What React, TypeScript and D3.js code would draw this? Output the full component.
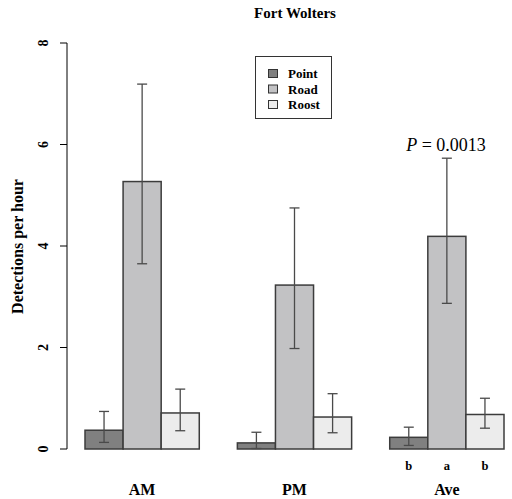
import React from "react";
import * as d3 from "d3";

const groups = ["AM", "PM", "Ave"];
const series = ["Point", "Road", "Roost"];
const means = [
  [0.37, 5.27, 0.71],
  [0.12, 3.23, 0.63],
  [0.23, 4.19, 0.68],
];
const upper = [
  [0.74, 7.19, 1.18],
  [0.33, 4.75, 1.09],
  [0.43, 5.73, 1.0],
];
const lower = [
  [0.13, 3.65, 0.36],
  [0.01, 1.98, 0.32],
  [0.07, 2.87, 0.41],
];
const yTicks = [0, 2, 4, 6, 8];
const letters = ["b", "a", "b"];
const colors = ["#808080", "#c2c2c4", "#ececec"];

export default function App() {
  const W = 512, H = 499;
  const font = "Liberation Serif, Times New Roman, serif";
  const y = d3.scaleLinear().domain([0, 8]).range([449, 43]);
  const x = d3.scaleBand<string>().domain(groups).range([85, 504]).paddingInner(0.25).paddingOuter(0);
  const xs = d3.scaleBand<string>().domain(series).range([0, x.bandwidth()]).padding(0);
  const cap = 5;
  return (
    <svg width={W} height={H} style={{ position: "absolute", left: 0, top: 0, fontFamily: font }}>
      <rect width={W} height={H} fill="#fff" />
      <text x={295} y={18} textAnchor="middle" fontWeight="bold" fontSize={15}>Fort Wolters</text>
      {/* y axis */}
      <line x1={67} x2={67} y1={y(0)} y2={y(8)} stroke="#000" strokeWidth={1} />
      {yTicks.map((t) => (
        <g key={t}>
          <line x1={60} x2={67} y1={y(t)} y2={y(t)} stroke="#000" />
          <text transform={`translate(48,${y(t)}) rotate(-90)`} textAnchor="middle" fontWeight="bold" fontSize={14}>{t}</text>
        </g>
      ))}
      <text transform={`translate(23,246.5) rotate(-90)`} textAnchor="middle" fontWeight="bold" fontSize={16}>Detections per hour</text>
      {/* bars */}
      {groups.map((g, gi) => (
        <g key={g}>
          {series.map((s, si) => {
            const bx = (x(g) as number) + (xs(s) as number);
            const bw = xs.bandwidth();
            const cx = bx + bw / 2;
            return (
              <g key={s}>
                <rect x={bx} y={y(means[gi][si])} width={bw} height={y(0) - y(means[gi][si])} fill={colors[si]} stroke="#3c3c3c" strokeWidth={1.5} />
                <line x1={cx} x2={cx} y1={y(upper[gi][si])} y2={y(lower[gi][si])} stroke="#4a4a4a" strokeWidth={1.3} />
                <line x1={cx - cap} x2={cx + cap} y1={y(upper[gi][si])} y2={y(upper[gi][si])} stroke="#4a4a4a" strokeWidth={1.3} />
                <line x1={cx - cap} x2={cx + cap} y1={y(lower[gi][si])} y2={y(lower[gi][si])} stroke="#4a4a4a" strokeWidth={1.3} />
              </g>
            );
          })}
          <text x={(x(g) as number) + x.bandwidth() / 2} y={495} textAnchor="middle" fontWeight="bold" fontSize={16}>{g}</text>
        </g>
      ))}
      {letters.map((l, i) => (
        <text key={i} x={(x("Ave") as number) + (xs(series[i]) as number) + xs.bandwidth() / 2} y={470} textAnchor="middle" fontWeight="bold" fontSize={12.5}>{l}</text>
      ))}
      <text x={446} y={151} textAnchor="middle" fontSize={18}>
        <tspan fontStyle="italic">P</tspan> = 0.0013
      </text>
      {/* legend */}
      <rect x={255.5} y={56.5} width={76} height={62} fill="#fff" stroke="#333" strokeWidth={1} />
      {series.map((s, i) => (
        <g key={s}>
          <rect x={268.5} y={69.5 + i * 15.5} width={9} height={8} fill={colors[i]} stroke="#333" strokeWidth={1} />
          <text x={288} y={78 + i * 15.5} fontWeight="bold" fontSize={13}>{s}</text>
        </g>
      ))}
    </svg>
  );
}
